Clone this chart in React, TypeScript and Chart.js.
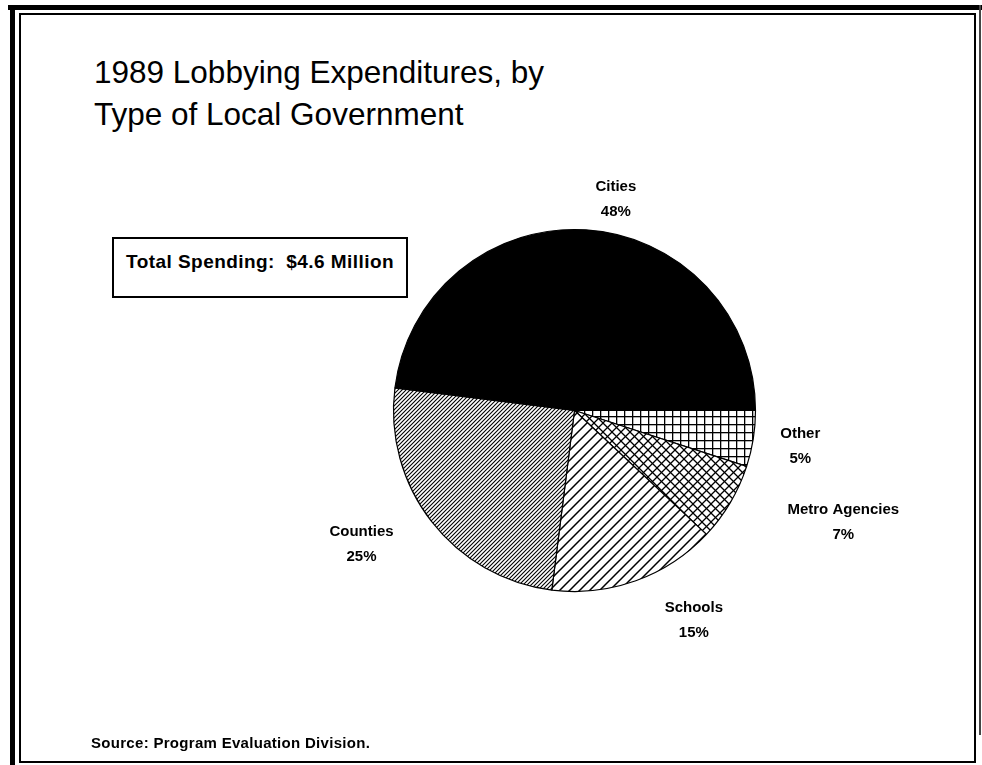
import React, { useEffect, useRef } from "react";
import { Chart, registerables } from "chart.js";

Chart.register(...registerables);

// ---- data ----
const categories = ["Other", "Metro Agencies", "Schools", "Counties", "Cities"];
const shares = [5, 7, 15, 25, 48];
const titleLines = ["1989 Lobbying Expenditures, by", "Type of Local Government"];
const totalNote = "Total Spending:  $4.6 Million";
const sourceNote = "Source: Program Evaluation Division.";

// ---- styling / layout ----
const FONT = '"Liberation Sans", Arial, Helvetica, sans-serif';
// label block offsets from the outer mid-point of each slice
const labelOffsets = [
  { dx: 47, dy: 8 },
  { dx: 113, dy: 20 },
  { dx: 58, dy: 40 },
  { dx: -70, dy: 23 },
  { dx: 30, dy: -30 },
];

type Drawer = (c: CanvasRenderingContext2D, w: number, h: number) => void;

function makePattern(main: CanvasRenderingContext2D, w: number, h: number, draw: Drawer) {
  const c = document.createElement("canvas");
  c.width = w;
  c.height = h;
  const t = c.getContext("2d")!;
  t.fillStyle = "#fff";
  t.fillRect(0, 0, w, h);
  t.strokeStyle = "#000";
  t.fillStyle = "#000";
  draw(t, w, h);
  return main.createPattern(c, "repeat") as CanvasPattern;
}

function rising(lw: number): Drawer {
  return (t, w) => {
    t.lineWidth = lw;
    t.beginPath();
    t.moveTo(-1, w + 1);
    t.lineTo(w + 1, -1);
    t.moveTo(-2, 2);
    t.lineTo(2, -2);
    t.moveTo(w - 2, w + 2);
    t.lineTo(w + 2, w - 2);
    t.stroke();
  };
}

function cross(lw: number): Drawer {
  return (t, w) => {
    rising(lw)(t, w, w);
    t.beginPath();
    t.moveTo(-1, -1);
    t.lineTo(w + 1, w + 1);
    t.moveTo(-2, w - 2);
    t.lineTo(2, w + 2);
    t.moveTo(w - 2, -2);
    t.lineTo(w + 2, 2);
    t.stroke();
  };
}

function grid(lw: number): Drawer {
  return (t, w, h) => {
    t.fillRect(0, 0, lw, h);
    t.fillRect(0, 0, w, lw);
  };
}

const labelPlugin = {
  id: "sliceLabels",
  afterDatasetsDraw(chart: any) {
    const ctx: CanvasRenderingContext2D = chart.ctx;
    const meta = chart.getDatasetMeta(0);
    const labels = chart.data.labels as string[];
    const values = chart.data.datasets[0].data as number[];
    ctx.save();
    ctx.fillStyle = "#000";
    ctx.font = `bold 15px ${FONT}`;
    ctx.textAlign = "center";
    ctx.textBaseline = "middle";
    meta.data.forEach((arc: any, i: number) => {
      const p = arc.getProps(["x", "y", "startAngle", "endAngle", "outerRadius"], true);
      const mid = (p.startAngle + p.endAngle) / 2;
      const cx = p.x + Math.cos(mid) * p.outerRadius + labelOffsets[i].dx;
      const cy = p.y + Math.sin(mid) * p.outerRadius + labelOffsets[i].dy;
      ctx.fillText(labels[i], cx, cy - 12.5);
      ctx.fillText(`${values[i]}%`, cx, cy + 12.5);
    });
    ctx.restore();
  },
};

function PieChart() {
  const ref = useRef<HTMLCanvasElement | null>(null);
  useEffect(() => {
    const canvas = ref.current!;
    const main = canvas.getContext("2d")!;
    const fills = [
      makePattern(main, 8, 8, grid(1.3)),
      makePattern(main, 9, 9, cross(1.3)),
      makePattern(main, 10, 10, rising(1.5)),
      makePattern(main, 4, 4, rising(1.1)),
      "#000",
    ];
    const chart = new Chart(canvas, {
      type: "pie",
      data: {
        labels: categories,
        datasets: [
          {
            data: shares,
            backgroundColor: fills as any,
            borderColor: "#000",
            borderWidth: 1.2,
            radius: 181,
          } as any,
        ],
      },
      options: {
        animation: false,
        responsive: false,
        rotation: 90,
        layout: { padding: { left: 374.5, right: 207.5, top: 210.5, bottom: 154.5 } },
        plugins: {
          legend: { display: false },
          tooltip: { enabled: false },
          title: { display: false },
        },
      },
      plugins: [labelPlugin],
    });
    return () => chart.destroy();
  }, []);
  return (
    <canvas
      ref={ref}
      width={982}
      height={765}
      style={{ position: "absolute", left: 0, top: 0, width: 982, height: 765 }}
    />
  );
}

export default function App() {
  const abs: React.CSSProperties = { position: "absolute" };
  return (
    <div
      style={{
        position: "absolute",
        left: 0,
        top: 0,
        width: 982,
        height: 765,
        background: "#fff",
        overflow: "hidden",
        fontFamily: FONT,
        color: "#000",
      }}
    >
      {/* frame */}
      <div style={{ ...abs, left: 8, top: 5, width: 974, height: 5, background: "#000" }} />
      <div style={{ ...abs, left: 10, top: 5, width: 5, height: 760, background: "#000" }} />
      <div style={{ ...abs, left: 979, top: 5, width: 2, height: 730, background: "#444" }} />
      <div
        style={{
          ...abs,
          left: 19,
          top: 13,
          width: 957,
          height: 750,
          border: "2px solid #000",
          boxSizing: "border-box",
        }}
      />
      {/* title */}
      <div style={{ ...abs, left: 94, top: 51, fontSize: 31.5, lineHeight: "42px", whiteSpace: "nowrap" }}>
        {titleLines.map((l) => (
          <div key={l}>{l}</div>
        ))}
      </div>
      {/* total box */}
      <div
        style={{
          ...abs,
          left: 112,
          top: 237,
          width: 296,
          height: 61,
          border: "2px solid #000",
          boxSizing: "border-box",
        }}
      />
      <div
        style={{
          ...abs,
          left: 126,
          top: 251,
          fontSize: 19,
          fontWeight: "bold",
          letterSpacing: 0.45,
          lineHeight: "21px",
          whiteSpace: "pre",
        }}
      >
        {totalNote}
      </div>
      <PieChart />
      {/* source */}
      <div
        style={{
          ...abs,
          left: 91,
          top: 734,
          fontSize: 15,
          fontWeight: "bold",
          letterSpacing: 0.3,
          lineHeight: "17px",
          whiteSpace: "nowrap",
        }}
      >
        {sourceNote}
      </div>
    </div>
  );
}
